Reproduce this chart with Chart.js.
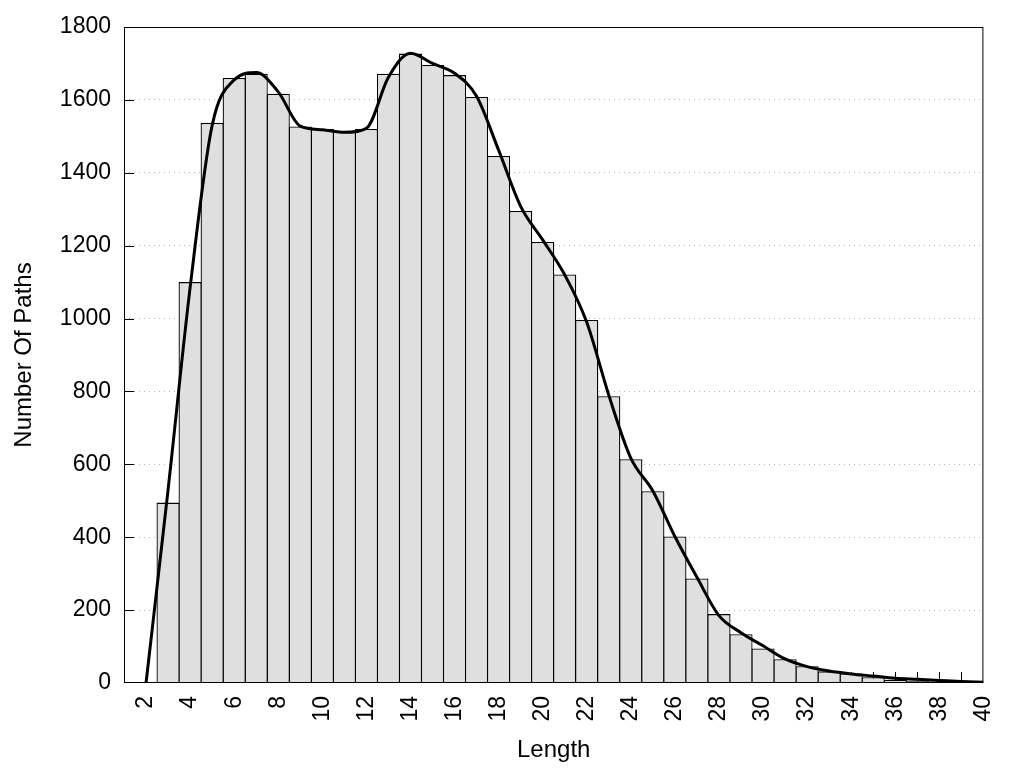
<!DOCTYPE html>
<html>
<head>
<meta charset="utf-8">
<title>Number Of Paths by Length</title>
<script src="https://cdn.jsdelivr.net/npm/chart.js@4.4.1/dist/chart.umd.min.js"></script>
<style>
  html, body { margin: 0; padding: 0; background: #fff; }
  #wrap { width: 1024px; height: 768px; }
</style>
</head>
<body>
<div id="wrap"><canvas id="histo" width="1024" height="768"></canvas></div>
<script>
// histogram bars, one per path length
var barLengths = [3, 4, 5, 6, 7, 8, 9, 10, 11, 12, 13, 14, 15, 16, 17, 18, 19, 20, 21,
    22, 23, 24, 25, 26, 27, 28, 29, 30, 31, 32, 33, 34, 35, 36, 37, 38, 39];
var pathCounts = [495, 1100, 1537, 1660, 1672, 1617, 1527, 1520, 1514, 1520, 1672, 1727, 1696,
    1668, 1608, 1446, 1295, 1210, 1121, 996, 787, 614, 526, 402, 287, 189, 134, 95, 65, 46,
    32, 26, 16, 9, 6, 4, 2];

// smoothed curve over the bars
var curveLengths = [2, 3, 4, 5, 6, 7, 8, 9, 10, 11, 12, 13, 14, 15, 16, 17, 18, 19, 20, 21,
    22, 23, 24, 25, 26, 27, 28, 29, 30, 31, 32, 33, 34, 35, 36, 37, 38, 39, 40];
var curveCounts = [0, 530, 1085, 1530, 1655, 1675, 1622, 1528, 1518, 1511, 1522, 1662, 1728,
    1700, 1673, 1610, 1462, 1308, 1216, 1120, 990, 790, 617, 527, 402, 290, 185, 138, 102,
    66, 45, 33, 25, 19, 13, 10, 7, 4, 2];

// axis ticks
var lengthTicks = [2, 4, 6, 8, 10, 12, 14, 16, 18, 20, 22, 24, 26, 28, 30, 32, 34, 36, 38, 40];
var countTicks = [0, 200, 400, 600, 800, 1000, 1200, 1400, 1600, 1800];

Chart.defaults.font.family = "'Liberation Sans', Arial, sans-serif";
Chart.defaults.color = '#000';

// tick marks point inward and sit behind the bars, frame closes on top/right
var framePlugin = {
    id: 'frame',
    beforeDatasetsDraw: function(chart) {
        var ctx = chart.ctx;
        var area = chart.chartArea;
        var xs = chart.scales.x;
        var ys = chart.scales.y;
        ctx.save();
        ctx.strokeStyle = '#000';
        ctx.lineWidth = 1;
        ctx.beginPath();
        for (var v = xs.min + 1; v < xs.max; v++) {
            var px = Math.round(xs.getPixelForValue(v)) + 0.5;
            ctx.moveTo(px, area.bottom);
            ctx.lineTo(px, area.bottom - 11);
        }
        countTicks.forEach(function(t) {
            if (t <= ys.min || t >= ys.max) return;
            var py = Math.round(ys.getPixelForValue(t)) + 0.5;
            ctx.moveTo(area.left, py);
            ctx.lineTo(area.left + 10, py);
        });
        ctx.stroke();
        ctx.restore();
    },
    afterDatasetsDraw: function(chart) {
        var ctx = chart.ctx;
        var a = chart.chartArea;
        ctx.save();
        ctx.strokeStyle = '#000';
        ctx.lineWidth = 1;
        ctx.strokeRect(a.left + 0.5, a.top + 0.5, a.right - a.left - 1, a.bottom - a.top - 1);
        ctx.restore();
    }
};

var ctx = document.getElementById('histo').getContext('2d');

var histoChart = new Chart(ctx, {
    type: 'bar',
    data: {
        datasets: [{
            type: 'line',
            order: 0,
            data: curveLengths.map(function(l, i) { return {x: l, y: curveCounts[i]}; }),
            borderColor: '#000',
            borderWidth: 3,
            pointRadius: 0,
            fill: false,
            cubicInterpolationMode: 'monotone'
        }, {
            type: 'bar',
            order: 1,
            data: barLengths.map(function(l, i) { return {x: l, y: pathCounts[i]}; }),
            backgroundColor: '#dfdfdf',
            borderColor: '#000',
            borderWidth: 1.3,
            barPercentage: 1.05,
            categoryPercentage: 1
        }]
    },
    options: {
        responsive: false,
        animation: false,
        layout: { padding: { left: 0, top: 27, right: 39, bottom: 0 } },
        plugins: {
            legend: { display: false },
            tooltip: { enabled: false }
        },
        scales: {
            x: {
                type: 'linear',
                min: 1,
                max: 40,
                offset: false,
                grid: { display: false, drawTicks: false },
                border: { display: false },
                afterBuildTicks: function(scale) {
                    scale.ticks = lengthTicks.map(function(v) { return {value: v}; });
                },
                afterFit: function(scale) { scale.height = 85; },
                ticks: {
                    autoSkip: false,
                    minRotation: 90,
                    maxRotation: 90,
                    padding: 13,
                    font: { size: 23 },
                    callback: function(v) { return String(v); }
                },
                title: {
                    display: true,
                    text: 'Length',
                    font: { size: 24 },
                    padding: { top: 0, bottom: 3 }
                }
            },
            y: {
                min: 0,
                max: 1800,
                grid: {
                    drawTicks: false,
                    lineWidth: 1,
                    color: function(c) {
                        var v = c.tick ? c.tick.value : 0;
                        return (v > 0 && v < 1800) ? '#b4b4b4' : 'rgba(0,0,0,0)';
                    }
                },
                border: { display: false, dash: [1, 4] },
                afterBuildTicks: function(scale) {
                    scale.ticks = countTicks.map(function(v) { return {value: v}; });
                },
                afterFit: function(scale) { scale.width = 124; },
                ticks: {
                    padding: 13,
                    font: { size: 23 },
                    callback: function(v) { return String(v); }
                },
                title: {
                    display: true,
                    text: 'Number Of Paths',
                    font: { size: 24 },
                    padding: { top: 10, bottom: 0 }
                }
            }
        }
    },
    plugins: [framePlugin]
});
</script>
</body>
</html>
